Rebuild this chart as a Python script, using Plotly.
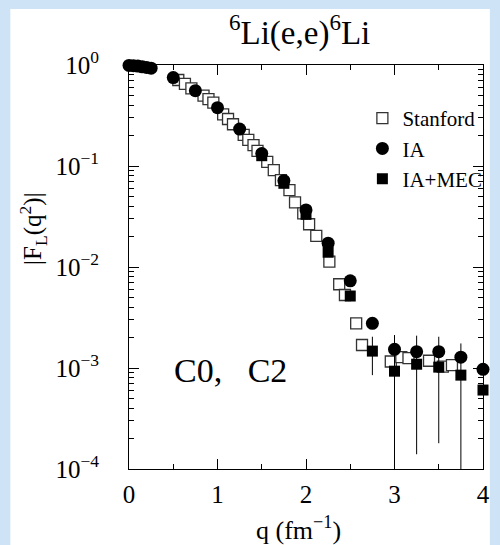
import plotly.graph_objects as go

# ---- data ----
stanford_q = [0.557, 0.632, 0.705, 0.842, 0.898, 0.953, 1.064, 1.119, 1.175, 1.296, 1.348,
              1.407, 1.452, 1.562, 1.636, 1.717, 1.813, 1.876, 1.969, 2.035, 2.116, 2.264,
              2.375, 2.44, 2.567, 2.633, 2.958, 3.077, 3.158, 3.39, 3.546, 3.649]
stanford_f = [0.710, 0.649, 0.587, 0.497, 0.460, 0.424, 0.325, 0.292, 0.259, 0.203, 0.181,
              0.161, 0.141, 0.110, 0.0912, 0.0726, 0.0578, 0.0437, 0.0340, 0.0265, 0.0203, 0.0113,
              0.00675, 0.00528, 0.00277, 0.00169, 0.00116, 0.00128, 0.00125, 0.00118, 0.00103, 0.00107]
stanford_err = [0] * 26 + [0.00012, 0.00012, 0.00012, 0.00012, 0.00012, 0.00012]

ia_q = [0.0, 0.05, 0.1, 0.15, 0.2, 0.25, 0.5, 0.75, 1.0, 1.25, 1.5, 1.75, 2.0, 2.25, 2.5,
        2.75, 3.0, 3.25, 3.5, 3.75, 4.0]
ia_f = [0.99, 0.985, 0.975, 0.96, 0.945, 0.93, 0.75, 0.557, 0.378, 0.232, 0.133, 0.0716,
        0.0367, 0.0172, 0.0073, 0.00277, 0.00153, 0.00145, 0.00145, 0.00128, 0.00097]

mec_q = [1.5, 1.75, 2.0, 2.25, 2.5, 2.75, 3.0, 3.25, 3.5, 3.75, 4.0]
mec_f = [0.1265, 0.0674, 0.0332, 0.0140, 0.00516, 0.00147, 0.00093, 0.00109, 0.00102, 0.00085, 0.000605]
mec_err_up = [0, 0, 0, 0, 0, 0.00057, 0.00119, 0.00100, 0.00102, 0.0009, 0]
mec_err_down = [0, 0, 0, 0, 0, 0.00062, 0.0012, 0.00095, 0.00084, 0.0009, 0]

x_ticks = [0, 1, 2, 3, 4]
y_ticks = [1e-4, 1e-3, 1e-2, 1e-1, 1]
y_ticklabels = ["10<sup>−4</sup>", "10<sup>−3</sup>", "10<sup>−2</sup>", "10<sup>−1</sup>", "10<sup>0</sup>"]

FONT = "Liberation Serif"

# plot-area geometry (px)
W, H = 500, 545
L, R, T, B = 129, 10, 65, 76
PW, PH = W - L - R, H - T - B

def px2paper_x(px):
    return (px - L) / PW

def py2paper_y(py):
    return (H - B - py) / PH

fig = go.Figure()

fig.add_trace(go.Scatter(
    x=stanford_q, y=stanford_f, mode="markers", name="Stanford",
    marker=dict(symbol="square", size=11, color="white", line=dict(color="#333333", width=1.3)),
    error_y=dict(type="data", array=stanford_err, color="#555555", thickness=1, width=0),
    legendrank=1, cliponaxis=False,
))
# error bars of IA+MEC (clipped to the axes)
fig.add_trace(go.Scatter(
    x=mec_q, y=mec_f, mode="markers", showlegend=False, hoverinfo="skip",
    marker=dict(size=1, color="rgba(0,0,0,0)"),
    error_y=dict(type="data", symmetric=False, array=mec_err_up, arrayminus=mec_err_down,
                 color="black", thickness=1, width=0),
))
fig.add_trace(go.Scatter(
    x=mec_q, y=mec_f, mode="markers", name="IA+MEC",
    marker=dict(symbol="square", size=11, color="black"),
    legendrank=3, cliponaxis=False,
))
fig.add_trace(go.Scatter(
    x=ia_q, y=ia_f, mode="markers", name="IA",
    marker=dict(symbol="circle", size=13, color="black"),
    legendrank=2, cliponaxis=False,
))

axis_common = dict(
    showline=True, linecolor="black", linewidth=1, mirror="ticks",
    ticks="inside", ticklen=10, tickcolor="black", tickwidth=1,
    showgrid=False, zeroline=False,
    tickfont=dict(family=FONT, size=25, color="black"),
)

fig.update_xaxes(
    range=[0, 4], tickmode="array", tickvals=x_ticks, ticktext=[str(v) for v in x_ticks],
    minor=dict(dtick=0.5, tick0=0, ticks="inside", ticklen=5, tickcolor="black"),
    ticklabelstandoff=3,
    **axis_common,
)
fig.update_yaxes(
    type="log", range=[-4, 0], tickmode="array", tickvals=y_ticks, ticktext=y_ticklabels,
    minor=dict(dtick="D1", ticks="inside", ticklen=5, tickcolor="black"),
    ticklabelstandoff=24,
    **axis_common,
)

fig.update_layout(
    width=W, height=H,
    margin=dict(l=L, r=R, t=T, b=B, pad=0),
    paper_bgcolor="#cfe3f7", plot_bgcolor="white",
    font=dict(family=FONT, color="black"),
    showlegend=True,
    legend=dict(
        x=px2paper_x(367), y=py2paper_y(98), xanchor="left", yanchor="top",
        bgcolor="rgba(0,0,0,0)", font=dict(family=FONT, size=21, color="black"),
        itemwidth=30, tracegroupgap=0,
    ),
    shapes=[dict(type="rect", xref="paper", yref="paper",
                 x0=px2paper_x(8), x1=px2paper_x(497), y0=py2paper_y(560), y1=py2paper_y(9),
                 fillcolor="white", line=dict(width=0), layer="below")],
    annotations=[
        dict(text="<sup>6</sup>Li(e,e)<sup>6</sup>Li", xref="paper", yref="paper",
             x=px2paper_x(303), y=py2paper_y(31), xanchor="center", yanchor="middle",
             showarrow=False, font=dict(family=FONT, size=33, color="black")),
        dict(text="|F<sub>L</sub>(q<sup>2</sup>)|", xref="paper", yref="paper",
             x=px2paper_x(31), y=py2paper_y(228), xanchor="center", yanchor="middle",
             textangle=-90, showarrow=False, font=dict(family=FONT, size=25, color="black")),
        dict(text="q (fm<sup>−1</sup>)", xref="paper", yref="paper",
             x=px2paper_x(302), y=py2paper_y(528), xanchor="center", yanchor="middle",
             showarrow=False, font=dict(family=FONT, size=26, color="black")),
        dict(text="C0,\u00a0\u00a0\u00a0C2", xref="paper", yref="paper",
             x=px2paper_x(173), y=py2paper_y(370), xanchor="left", yanchor="middle",
             showarrow=False, font=dict(family=FONT, size=34, color="black")),
    ],
)

fig.write_html("out.html")
